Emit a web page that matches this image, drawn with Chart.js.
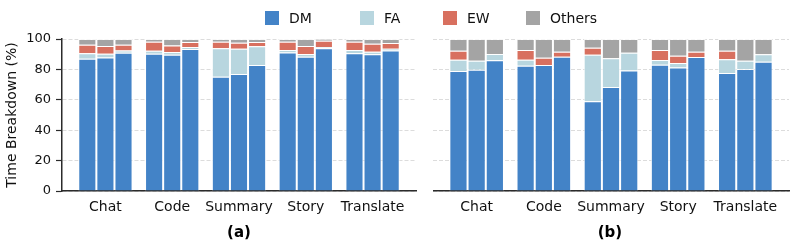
<!DOCTYPE html>
<html>
<head>
<meta charset="utf-8">
<script src="https://cdn.jsdelivr.net/npm/chart.js@4.4.1/dist/chart.umd.min.js"></script>
<style>
  body { margin: 0; background: #fff; font-family: "DejaVu Sans", sans-serif; }
  #fig { position: relative; width: 793px; height: 247px; overflow: hidden; }
  #canvasA { position: absolute; left: 0; top: 0; }
  #canvasB { position: absolute; left: 433px; top: 0; }
  .leg { position: absolute; top: 10px; font-size: 14px; color: #111; line-height: 16px; }
  .leg i { position: absolute; top: 1px; width: 14px; height: 14px; }
  .leg span { position: absolute; top: 0; white-space: nowrap; }
  .panel { position: absolute; top: 223px; font-size: 15px; font-weight: bold; color: #000; width: 60px; text-align: center; }
</style>
</head>
<body>
<div id="fig">
  <canvas id="canvasA" width="420" height="247"></canvas>
  <canvas id="canvasB" width="360" height="247"></canvas>
  <div id="legend"></div>
  <div class="panel" style="left:209px">(a)</div>
  <div class="panel" style="left:580px">(b)</div>
</div>
<script>
const categories = ['Chat', 'Code', 'Summary', 'Story', 'Translate'];
const seriesNames = ['DM', 'FA', 'EW', 'Others'];
const seriesColors = ['#4383c7', '#b8d6df', '#d8705f', '#a4a4a4'];
const yTicks = [0, 20, 40, 60, 80, 100];

// three bars per category, category-major order
const dmA     = [87.0, 87.9, 91.0,  90.3, 89.7, 93.4,  75.2, 76.9, 82.9,  91.2, 88.3, 93.9,  90.6, 89.9, 92.5];
const faA     = [ 3.6,  2.4,  1.5,   2.0,  1.7,  1.3,  18.7, 16.7, 12.3,   1.5,  1.8,  0.8,   2.1,  1.7,  1.1];
const ewA     = [ 5.6,  5.1,  3.7,   5.9,  4.4,  3.3,   4.3,  4.0,  2.8,   5.5,  5.3,  4.2,   5.5,  5.3,  3.8];
const othersA = [ 3.8,  4.6,  3.8,   1.8,  4.2,  2.0,   1.8,  2.4,  2.0,   1.8,  4.6,  1.1,   1.8,  3.1,  2.6];

const dmB     = [78.9, 79.8, 86.0,  82.4, 82.9, 88.3,  59.1, 68.4, 79.3,  83.1, 81.3, 88.1,  77.6, 80.2, 85.0];
const faB     = [ 7.5,  5.9,  4.1,   4.0,  0.0,  0.0,  30.6, 18.9, 11.7,   3.1,  2.9,  0.0,   9.0,  5.5,  4.9];
const ewB     = [ 5.9,  0.0,  0.0,   6.3,  4.8,  3.3,   4.6,  0.0,  0.0,   6.5,  4.8,  3.5,   5.7,  0.0,  0.0];
const othersB = [ 7.7, 14.3,  9.9,   7.3, 12.3,  8.4,   5.7, 12.7,  9.0,   7.3, 11.0,  8.4,   7.7, 14.3, 10.1];

const FONT = 'DejaVu Sans';

function buildDatasets(series) {
  const sets = [];
  for (let v = 0; v < 3; v++) {
    series.forEach((vals, s) => {
      sets.push({
        label: seriesNames[s],
        stack: 'bar' + v,
        data: categories.map((c, i) => ({ x: i, y: vals[i * 3 + v] })),
        backgroundColor: seriesColors[s],
        borderColor: 'rgba(255,255,255,0.75)',
        borderWidth: 1,
        borderSkipped: 'start',
        barPercentage: 1.0,
        categoryPercentage: 0.813,
      });
    });
  }
  return sets;
}

function makeChart(id, series, showY) {
  const ctx = document.getElementById(id).getContext('2d');
  return new Chart(ctx, {
    type: 'bar',
    data: { datasets: buildDatasets(series) },
    options: {
      responsive: false,
      animation: false,
      layout: { padding: { top: 39, right: 4, bottom: 0, left: 0 } },
      plugins: { legend: { display: false }, tooltip: { enabled: false } },
      scales: {
        x: {
          type: 'linear',
          min: -0.65,
          max: 4.65,
          offset: false,
          afterBuildTicks: (s) => { s.ticks = categories.map((c, i) => ({ value: i })); },
          afterFit: (s) => { s.height = 56; },
          grid: { display: false, drawTicks: false },
          border: { display: true, color: '#2b2b2b', width: 1.5 },
          ticks: {
            autoSkip: false, maxRotation: 0, padding: 8,
            color: '#111', font: { family: FONT, size: 14 },
            callback: (v) => categories[v],
          },
        },
        y: {
          stacked: true,
          min: 0,
          max: 100,
          afterBuildTicks: (s) => { s.ticks = yTicks.map(v => ({ value: v })); },
          afterFit: (s) => { s.width = showY ? 62 : 0; },
          grid: {
            color: '#dcdcdc', lineWidth: 1,
            drawTicks: showY, tickLength: 6, tickColor: '#2b2b2b', tickWidth: 1.2,
          },
          border: { display: showY, color: '#2b2b2b', width: 1.5, dash: [4, 2] },
          ticks: {
            display: showY, padding: 5,
            color: '#111', font: { family: FONT, size: 13 },
          },
          title: {
            display: showY, text: 'Time Breakdown (%)',
            color: '#111', font: { family: FONT, size: 14 }, padding: { top: 4, bottom: 2 },
          },
        },
      },
    },
  });
}

makeChart('canvasA', [dmA, faA, ewA, othersA], true);
makeChart('canvasB', [dmB, faB, ewB, othersB], false);

// legend shared by both panels
const legendX = [265, 360, 443, 526];
const legend = document.getElementById('legend');
seriesNames.forEach((name, s) => {
  const d = document.createElement('div');
  d.className = 'leg';
  d.style.left = legendX[s] + 'px';
  d.innerHTML = '<i style="background:' + seriesColors[s] + '"></i><span style="left:24px">' + name + '</span>';
  legend.appendChild(d);
});
</script>
</body>
</html>
